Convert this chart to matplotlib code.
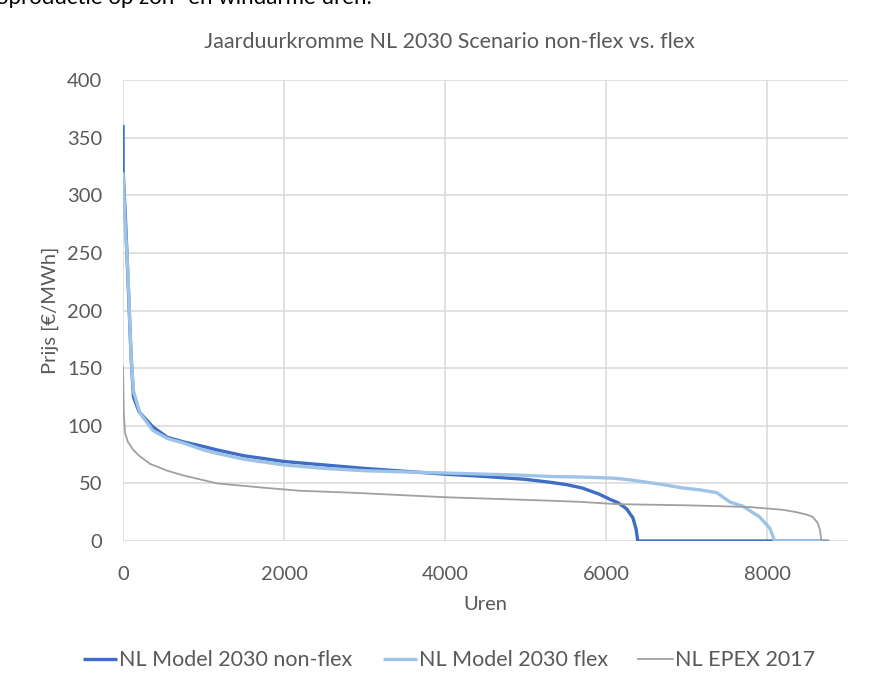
#jaarduurkromme (price duration curve) NL 2030 scenario, non-flex vs flex vs EPEX 2017
import matplotlib.pyplot as plt

#-----------------------------------------------DATA-----------------------------------------------#
#NL Model 2030 non-flex (hours, price in EUR/MWh)
nonflex_hours = [0, 1, 30, 60, 100, 130, 200, 370, 550, 750, 1000, 1170, 1500, 2000, 2500,
                 3000, 3500, 4000, 4500, 5000, 5300, 5500, 5700, 5900, 6050, 6150, 6250, 6330, 6370, 6390, 8760]
nonflex_price = [361, 322, 280, 230, 160, 125, 112, 99, 90, 86, 82, 79, 74, 69, 66,
                 63, 60.5, 58, 56, 53.5, 51, 49, 46, 41, 36, 33, 28, 20, 10, 0, 0]

#NL Model 2030 flex
flex_hours = [0, 30, 60, 100, 130, 210, 370, 550, 750, 1000, 1170, 1500, 2000, 2500, 3000,
              4000, 5000, 5300, 5700, 6100, 6300, 6500, 6700, 6950, 7150, 7370, 7450, 7530, 7700,
              7900, 8030, 8090, 8760]
flex_price = [320, 270, 235, 160, 130, 111, 96, 89, 85, 79, 76, 71, 66, 63, 61,
              59, 57, 56, 55.5, 54.5, 53, 51, 49, 46, 44.5, 42, 38, 34, 30,
              21, 11, 0, 0]

#NL EPEX 2017
epex_hours = [0, 10, 25, 60, 128, 200, 335, 550, 745, 1166, 1786, 2200, 2816, 4000, 5298,
              5670, 6129, 7000, 7780, 8200, 8362, 8480, 8560, 8620, 8650, 8670, 8760]
epex_price = [151, 110, 94, 86, 79, 74, 67, 61, 57, 50, 46, 43.6, 42, 38, 35,
              34, 32, 31, 29.5, 27, 25, 23, 21, 16, 10, 0, 0]

series_labels = ['NL Model 2030 non-flex', 'NL Model 2030 flex', 'NL EPEX 2017']
x_ticks = [0, 2000, 4000, 6000, 8000]
y_ticks = [0, 50, 100, 150, 200, 250, 300, 350, 400]

#-----------------------------------------------PLOT-----------------------------------------------#
plt.rcParams['font.family'] = ['Lato', 'DejaVu Sans']
txt_color = '#595959'

fig = plt.figure()
fig.set_size_inches(8.75, 6.82)
ax = fig.add_axes([0.1406, 0.2067, 0.8286, 0.676])

ax.plot(nonflex_hours, nonflex_price, color='#3F6CC4', linewidth=2.4, label=series_labels[0], solid_capstyle='butt')
ax.plot(flex_hours, flex_price, color='#9DC3E6', linewidth=2.4, label=series_labels[1], solid_capstyle='butt')
ax.plot(epex_hours, epex_price, color='#A0A0A0', linewidth=1.3, label=series_labels[2])

ax.set_xlim(0, 9000)
ax.set_ylim(0, 400)
ax.set_xticks(x_ticks)
ax.set_yticks(y_ticks)
ax.grid(True, color='#D9D9D9', linewidth=1.1)
ax.set_axisbelow(True)
for s in ax.spines.values():
    s.set_visible(False)
ax.tick_params(length=0, labelsize=14.5, labelcolor=txt_color)
ax.tick_params(axis='x', pad=18)
ax.tick_params(axis='y', pad=15)

#title is centred on the whole figure, not on the plot area
fig.text(0.514, 1 - 42 / 682, 'Jaarduurkromme NL 2030 Scenario non-flex vs. flex', fontsize=15.5,
         color=txt_color, ha='center', va='center')
ax.set_xlabel('Uren', fontsize=14.5, color=txt_color, labelpad=9)
ax.set_ylabel('Prijs [€/MWh]', fontsize=14.5, color=txt_color, labelpad=6)

leg = fig.legend(loc='center', bbox_to_anchor=(0.513, 0.032), ncol=3, frameon=False, fontsize=15.5,
                 handlelength=1.6, handletextpad=0.1, columnspacing=1.4, labelcolor=txt_color)

#piece of document text that is cut off at the top of the screenshot
fig.text(-0.004, 1 - 4 / 682, 'oproductie op zon- en windarme uren.', fontsize=16, color='black', va='baseline')

plt.savefig('out.png', dpi=100)
